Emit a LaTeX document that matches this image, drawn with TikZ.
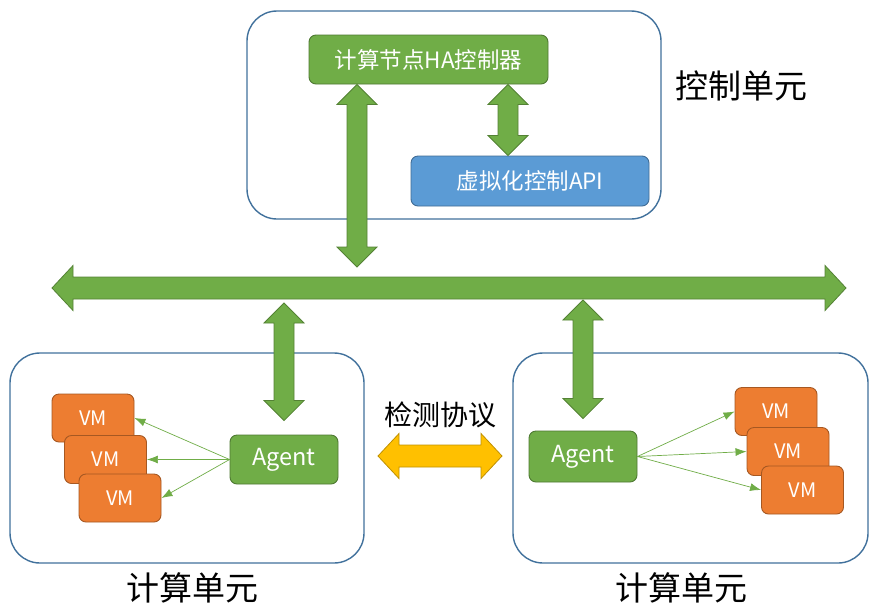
\documentclass[tikz,border=0pt]{standalone}
\usepackage{fontspec}
\setmainfont{Noto Sans CJK SC}
\usetikzlibrary{arrows.meta,calc}

\definecolor{agentgreen}{HTML}{70AD47}
\definecolor{apiblue}{HTML}{5B9BD5}
\definecolor{vmorange}{HTML}{ED7D31}
\definecolor{probegold}{HTML}{FFC000}
\definecolor{unitedge}{HTML}{41719C}

\tikzset{
  unitbox/.style = {draw = unitedge, line width = 1.4pt, fill = white, rounded corners = 30pt},
  greenbox/.style = {draw = agentgreen!70!black, fill = agentgreen, line width = 0.9pt, rounded corners = 7pt, text = white},
  bluebox/.style = {draw = apiblue!70!black, fill = apiblue, line width = 0.9pt, rounded corners = 7pt, text = white},
  vmbox/.style = {draw = vmorange!70!black, fill = vmorange, line width = 0.9pt, rounded corners = 7pt, text = white,
                  minimum width = 82pt, minimum height = 48pt, font = \fontsize{20}{24}\selectfont},
  thinarrow/.style = {draw = agentgreen, line width = 0.7pt, -{Latex[length = 11pt, width = 8pt]}},
  bigtext/.style = {font = \fontsize{33}{40}\selectfont}
}

% block arrows, tips given as points
\newcommand{\vdouble}[3][agentgreen]{%
  \filldraw[fill = #1, draw = #1!75!black, line width = 0.8pt] let \p1 = (#2), \p2 = (#3) in
    (\x1, \y1) -- (\x1 + 20pt, \y1 - 20pt) -- (\x1 + 10pt, \y1 - 20pt) -- (\x1 + 10pt, \y2 + 20pt)
    -- (\x1 + 20pt, \y2 + 20pt) -- (\x1, \y2) -- (\x1 - 20pt, \y2 + 20pt) -- (\x1 - 10pt, \y2 + 20pt)
    -- (\x1 - 10pt, \y1 - 20pt) -- (\x1 - 20pt, \y1 - 20pt) -- cycle;
}
\newcommand{\hdouble}[3][agentgreen]{%
  \filldraw[fill = #1, draw = #1!75!black, line width = 0.8pt] let \p1 = (#2), \p2 = (#3) in
    (\x1, \y1) -- (\x1 + 21pt, \y1 + 22.5pt) -- (\x1 + 21pt, \y1 + 11pt) -- (\x2 - 21pt, \y1 + 11pt)
    -- (\x2 - 21pt, \y1 + 22.5pt) -- (\x2, \y1) -- (\x2 - 21pt, \y1 - 22.5pt) -- (\x2 - 21pt, \y1 - 11pt)
    -- (\x1 + 21pt, \y1 - 11pt) -- (\x1 + 21pt, \y1 - 22.5pt) -- cycle;
}

\begin{document}
\begin{tikzpicture}[x = 1pt, y = -1pt]

\useasboundingbox (0, 0) rectangle (869, 606);

% Control unit
\node[unitbox, minimum width = 414pt, minimum height = 208pt] (ctrl) at (454, 115) {};
\node[greenbox, minimum width = 239pt, minimum height = 49pt, font = \fontsize{22.5}{27}\selectfont] (ha) at (428.5, 59.5) {计算节点HA控制器};
\node[bluebox, minimum width = 238pt, minimum height = 50pt, font = \fontsize{22.5}{27}\selectfont] (api) at (530, 181) {虚拟化控制API};
\node[bigtext] (ctrllabel) at (741, 86) {控制单元};

\coordinate (apilink) at (508, 0);
\coordinate (hajoin) at (357, 267);

% Compute units
\node[unitbox, minimum width = 354pt, minimum height = 210pt] (compL) at (187, 458) {};
\node[unitbox, minimum width = 355pt, minimum height = 210pt] (compR) at (690.5, 458) {};
\node[bigtext] (compLlabel) at (192, 588) {计算单元};
\node[bigtext] (compRlabel) at (681, 588) {计算单元};

\node[greenbox, minimum width = 108pt, minimum height = 49pt, font = \fontsize{23.5}{28}\selectfont] (agentL) at (284, 459.5) {Agent};
\node[greenbox, minimum width = 108pt, minimum height = 51pt, font = \fontsize{23.5}{28}\selectfont] (agentR) at (583, 456.5) {Agent};

\node[vmbox] (vmL1) at (93, 418) {VM};
\node[vmbox] (vmL2) at (105.5, 459.5) {VM};
\node[vmbox] (vmL3) at (120, 498) {VM};

\node[vmbox] (vmR1) at (776, 411.5) {VM};
\node[vmbox] (vmR2) at (788, 451.5) {VM};
\node[vmbox] (vmR3) at (802.5, 490) {VM};

\foreach \v in {1, 2, 3} {
  \draw[thinarrow] (agentL.west) -- (vmL\v.east);
  \draw[thinarrow] (agentR.east) -- (vmR\v.west);
}

% Bus and links
\coordinate (busW) at (52, 288);
\coordinate (busE) at (846, 288);
\hdouble{busW}{busE}

\vdouble{ha.south -| apilink}{api.north -| apilink}
\vdouble{ha.south -| hajoin}{hajoin}
\vdouble{$(agentL.north |- busW) + (0, 15)$}{$(agentL.north) + (0, -14)$}
\vdouble{$(agentR.north |- busW) + (0, 12)$}{$(agentR.north) + (0, -12)$}

% Probe between compute units
\coordinate (probeW) at (378, 456);
\coordinate (probeE) at (502, 456);
\hdouble[probegold]{probeW}{probeE}
\node[font = \fontsize{28}{34}\selectfont] (probelabel) at (440, 415) {检测协议};

\end{tikzpicture}
\end{document}
